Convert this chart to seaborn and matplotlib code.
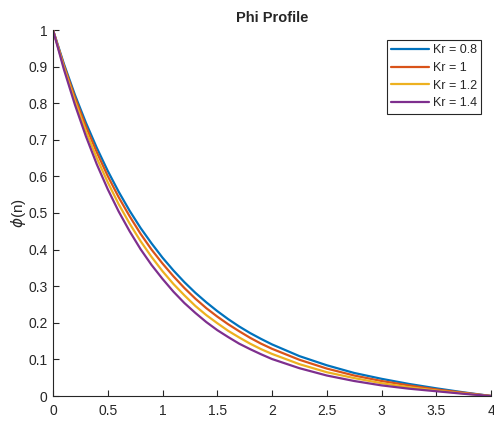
import numpy as np
import pandas as pd
import matplotlib
matplotlib.use('Agg')
import matplotlib.pyplot as plt
import seaborn as sns

# ── Data ──────────────────────────────────────────────────────────────────────
ETA = [0.0, 0.1, 0.2, 0.3, 0.4, 0.5, 0.6, 0.7, 0.8, 0.9, 1.0,
       1.1, 1.2, 1.3, 1.4, 1.5, 1.6, 1.7, 1.8, 1.9, 2.0,
       2.25, 2.5, 2.75, 3.0, 3.25, 3.5, 3.75, 4.0]

PHI_KR08 = [1.0, 0.907, 0.823, 0.747, 0.678, 0.615, 0.558, 0.506, 0.459, 0.417, 0.378,
            0.343, 0.311, 0.282, 0.256, 0.232, 0.210, 0.190, 0.172, 0.156, 0.141,
            0.109, 0.084, 0.063, 0.047, 0.033, 0.021, 0.010, 0.0]
PHI_KR10 = [1.0, 0.903, 0.816, 0.737, 0.666, 0.601, 0.543, 0.491, 0.443, 0.400, 0.362,
            0.327, 0.295, 0.266, 0.240, 0.217, 0.196, 0.177, 0.159, 0.143, 0.129,
            0.099, 0.075, 0.056, 0.041, 0.029, 0.018, 0.009, 0.0]
PHI_KR12 = [1.0, 0.898, 0.806, 0.724, 0.650, 0.584, 0.524, 0.471, 0.423, 0.380, 0.341,
            0.306, 0.275, 0.246, 0.221, 0.199, 0.178, 0.160, 0.143, 0.128, 0.115,
            0.087, 0.065, 0.049, 0.035, 0.024, 0.015, 0.007, 0.0]
PHI_KR14 = [1.0, 0.892, 0.796, 0.710, 0.633, 0.565, 0.504, 0.450, 0.401, 0.358, 0.320,
            0.285, 0.254, 0.227, 0.202, 0.180, 0.161, 0.143, 0.128, 0.114, 0.101,
            0.076, 0.056, 0.041, 0.029, 0.020, 0.013, 0.006, 0.0]

LABELS = ['Kr = 0.8', 'Kr = 1', 'Kr = 1.2', 'Kr = 1.4']
COLORS = ['#0072BD', '#D95319', '#EDB120', '#7E2F8E']

df = pd.concat([
    pd.DataFrame({'eta': ETA, 'phi': vals, 'Kr': lab})
    for vals, lab in zip([PHI_KR08, PHI_KR10, PHI_KR12, PHI_KR14], LABELS)
], ignore_index=True)

# ── Style ─────────────────────────────────────────────────────────────────────
sns.set_style('ticks')
plt.rcParams['font.family'] = ['Liberation Sans', 'DejaVu Sans']
plt.rcParams['mathtext.fontset'] = 'dejavusans'
plt.rcParams['xtick.direction'] = 'in'
plt.rcParams['ytick.direction'] = 'in'

fig = plt.figure(figsize=(4.94, 4.24), dpi=100)
ax = fig.add_axes([53/494, 28/424, 438/494, 366/424])

sns.lineplot(data=df, x='eta', y='phi', hue='Kr', hue_order=LABELS,
             palette=COLORS, linewidth=1.6, sort=True, ax=ax)

ax.set_xlim(0, 4)
ax.set_ylim(0, 1)
ax.set_xticks(np.arange(0, 4.01, 0.5))
ax.set_xticklabels(['0', '0.5', '1', '1.5', '2', '2.5', '3', '3.5', '4'])
ax.set_yticks(np.arange(0, 1.01, 0.1))
ax.set_yticklabels(['0', '0.1', '0.2', '0.3', '0.4', '0.5', '0.6', '0.7', '0.8', '0.9', '1'])
ax.tick_params(axis='both', labelsize=10, colors='#262626', length=4, width=0.8)
ax.tick_params(axis='x', pad=6)
ax.tick_params(axis='y', pad=4)
for s in ['left', 'bottom']:
    ax.spines[s].set_color('#262626')
    ax.spines[s].set_linewidth(0.8)
sns.despine(ax=ax)

ax.set_xlabel('')
ax.set_ylabel(r'$\phi$(n)', fontsize=11, color='#262626', labelpad=0)
ax.set_title('Phi Profile', fontsize=10.5, fontweight='bold', pad=6)

handles, labels = ax.get_legend_handles_labels()
leg = ax.legend(handles, labels, loc='upper right', fontsize=9, frameon=True,
                fancybox=False, edgecolor='#262626', framealpha=1,
                handlelength=3.0, handletextpad=0.3, borderpad=0.35,
                labelspacing=0.45, borderaxespad=0.8)
leg.get_frame().set_linewidth(0.8)

fig.savefig('out.png', dpi=100)
